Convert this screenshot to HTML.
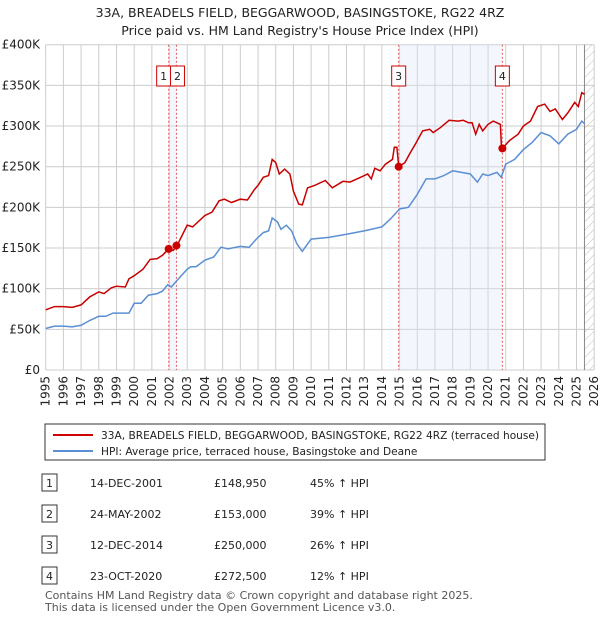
<!DOCTYPE html>
<html><head><meta charset="utf-8">
<style>
body{margin:0;background:#fff;font-family:"Liberation Sans","DejaVu Sans",sans-serif;}
#wrap{position:relative;width:600px;height:620px;overflow:hidden;}
svg text{font-family:"DejaVu Sans","Liberation Sans",sans-serif;}
</style></head><body>
<div id="wrap">
<svg id="chart" width="600" height="620" viewBox="0 0 600 620">
<text x="300" y="17" text-anchor="middle" font-size="12.5" fill="#222">33A, BREADELS FIELD, BEGGARWOOD, BASINGSTOKE, RG22 4RZ</text>
<text x="300" y="35" text-anchor="middle" font-size="12.5" fill="#222">Price paid vs. HM Land Registry's House Price Index (HPI)</text>
<defs><pattern id="hatch" width="6" height="6" patternUnits="userSpaceOnUse" patternTransform="rotate(45)"><line x1="0" y1="0" x2="0" y2="6" stroke="#bbb" stroke-width="1"/></pattern></defs>
<g id="grid"></g><g id="bands"></g><g id="series"></g><g id="axes"></g>
<rect x="45" y="424" width="500" height="36" fill="#fff" stroke="#333" stroke-width="1"/>
<line x1="53" y1="435" x2="93" y2="435" stroke="#cc0000" stroke-width="2"/>
<text x="101" y="439" font-size="10.6" fill="#222">33A, BREADELS FIELD, BEGGARWOOD, BASINGSTOKE, RG22 4RZ (terraced house)</text>
<line x1="53" y1="451" x2="93" y2="451" stroke="#5b8fd4" stroke-width="2"/>
<text x="101" y="455" font-size="10.6" fill="#222">HPI: Average price, terraced house, Basingstoke and Deane</text>
<g id="table" font-size="11" fill="#222"></g>
<text x="45" y="599" font-size="11" fill="#555">Contains HM Land Registry data © Crown copyright and database right 2025.</text>
<text x="45" y="611" font-size="11" fill="#555">This data is licensed under the Open Government Licence v3.0.</text>
</svg></div>
<script>
const hpiYears=[1995,1995.5,1996,1996.5,1997,1997.5,1998,1998.4,1998.8,1999.3,1999.7,2000,2000.4,2000.8,2001.3,2001.6,2001.9,2002.1,2002.5,2003,2003.2,2003.5,2004,2004.5,2004.9,2005.3,2006,2006.5,2006.9,2007.3,2007.6,2007.8,2008.1,2008.3,2008.6,2008.9,2009.2,2009.5,2010,2011,2012,2013,2014,2014.5,2015,2015.5,2016,2016.5,2017,2017.5,2018,2018.5,2019,2019.4,2019.7,2020,2020.5,2020.75,2021,2021.5,2022,2022.5,2023,2023.5,2024,2024.5,2025,2025.3,2025.45];
const hpiValues=[51,54,54,53,55,61,66,66,70,70,70,82,82,92,94,97,105,102,112,124,127,127,135,139,151,149,152,151,161,169,171,187,182,173,178,171,155,146,161,163,167,171,176,186,198,200,216,235,235,239,245,243,241,231,241,239,243,237,253,259,271,280,292,288,278,290,296,306,303];
const priceYears=[1995,1995.5,1996,1996.5,1997,1997.5,1998,1998.3,1998.7,1999,1999.5,1999.7,2000,2000.5,2000.9,2001.3,2001.6,2001.95,2002.2,2002.4,2003,2003.3,2004,2004.4,2004.8,2005.1,2005.5,2006,2006.4,2006.8,2007,2007.3,2007.6,2007.8,2008,2008.2,2008.5,2008.8,2009,2009.3,2009.5,2009.8,2010.2,2010.8,2011.2,2011.8,2012.2,2012.8,2013.2,2013.4,2013.6,2013.9,2014.2,2014.6,2014.7,2014.85,2014.95,2015.3,2015.6,2015.9,2016.3,2016.7,2016.9,2017.3,2017.8,2018.3,2018.6,2018.9,2019.1,2019.3,2019.5,2019.7,2020,2020.3,2020.7,2020.75,2020.81,2021.2,2021.7,2022,2022.4,2022.8,2023.2,2023.5,2023.8,2024.2,2024.5,2024.9,2025.1,2025.3,2025.45];
const priceValues=[74,78,78,77,80,90,96,94,101,103,102,112,116,124,136,137,141,149,147,152,178,176,190,194,208,210,206,210,209,222,227,237,239,259,255,241,247,241,220,204,203,224,227,233,224,232,231,237,241,235,248,245,253,259,274,274,250,255,267,278,294,296,292,298,307,306,307,304,304,290,302,294,302,306,302,278,272.5,282,290,300,306,324,327,318,321,308,316,329,324,341,339];
const saleLabels=["1","2","3","4"];
const saleYears=[2001.95,2002.39,2014.95,2020.81];
const salePrices=[148.95,153,250,272.5];
const saleDates=["14-DEC-2001","24-MAY-2002","12-DEC-2014","23-OCT-2020"];
const salePriceText=["£148,950","£153,000","£250,000","£272,500"];
const saleHpiText=["45% ↑ HPI","39% ↑ HPI","26% ↑ HPI","12% ↑ HPI"];
const yTicks=[0,50,100,150,200,250,300,350,400];
const yTickLabels=["£0","£50K","£100K","£150K","£200K","£250K","£300K","£350K","£400K"];
const xTicks=[1995,1996,1997,1998,1999,2000,2001,2002,2003,2004,2005,2006,2007,2008,2009,2010,2011,2012,2013,2014,2015,2016,2017,2018,2019,2020,2021,2022,2023,2024,2025,2026];
const X0=45.7,X1=594.2,Y0=370,Y1=44.7,yearMin=1995,yearMax=2026,vMax=400,dataEnd=2025.45;
const xS=y=>X0+(y-yearMin)/(yearMax-yearMin)*(X1-X0);
const yS=v=>Y0-v/vMax*(Y0-Y1);
const NS="http://www.w3.org/2000/svg";
function mk(tag,attrs,parent){const e=document.createElementNS(NS,tag);for(const k in attrs)e.setAttribute(k,attrs[k]);parent.appendChild(e);return e;}
const grid=document.getElementById('grid'),bands=document.getElementById('bands'),series=document.getElementById('series'),axes=document.getElementById('axes'),table=document.getElementById('table');
let bg=mk('rect',{x:X0,y:Y1,width:X1-X0,height:Y0-Y1,fill:'#fff'},grid);


yTicks.forEach((v,i)=>{
 let l=mk('line',{x1:X0,x2:X1,y1:yS(v),y2:yS(v),stroke:'#ccc','stroke-width':1},grid);
 
 
 let t=mk('text',{x:40,y:yS(v)+4,'text-anchor':'end','font-size':12,fill:'#222'},axes);
 t.textContent=yTickLabels[i];
 
 
});
xTicks.forEach(yr=>{
 let l=mk('line',{x1:xS(yr),x2:xS(yr),y1:Y1,y2:Y0,stroke:'#ccc','stroke-width':1},grid);
 
 
 let t=mk('text',{x:0,y:0,'text-anchor':'end','font-size':12,fill:'#222',transform:`translate(${xS(yr)+4},376) rotate(-90)`},axes);
 t.textContent=yr;
 
 
});
[[0,1],[2,3]].forEach(p=>{
 let r=mk('rect',{x:xS(saleYears[p[0]]),y:Y1,width:xS(saleYears[p[1]])-xS(saleYears[p[0]]),height:Y0-Y1,fill:'#dde6f8','fill-opacity':0.35},bands);
 
 
});
let h=mk('rect',{x:xS(dataEnd),y:Y1,width:X1-xS(dataEnd),height:Y0-Y1,fill:'url(#hatch)'},bands);


let hl=mk('line',{x1:xS(dataEnd),x2:xS(dataEnd),y1:Y1,y2:Y0,stroke:'#888','stroke-width':1},bands);


saleYears.forEach((yr,i)=>{
 let l=mk('line',{x1:xS(yr),x2:xS(yr),y1:Y1,y2:Y0,stroke:'#e06060','stroke-width':1,'stroke-dasharray':'2,2'},bands);
 
 
 let bx=xS(yr)-7;
 if(i===0)bx=xS(yr)-12; if(i===1)bx=xS(yr)-6;
 let r=mk('rect',{x:bx,y:66,width:14,height:20,fill:'#fff',stroke:'#cc0000','stroke-width':1},series);
 
 
 let t=mk('text',{x:bx+7,y:80,'text-anchor':'middle','font-size':11,fill:'#222'},series);
 t.textContent=saleLabels[i];
 
 
});
let dB=hpiYears.map((y,i)=>(i?'L':'M')+xS(y).toFixed(1)+','+yS(hpiValues[i]).toFixed(1)).join('');
let pb=mk('path',{d:dB,fill:'none',stroke:'#5b8fd4','stroke-width':1.5},series);


let dR=priceYears.map((y,i)=>(i?'L':'M')+xS(y).toFixed(1)+','+yS(priceValues[i]).toFixed(1)).join('');
let pr=mk('path',{d:dR,fill:'none',stroke:'#c80000','stroke-width':1.5},series);


saleYears.forEach((yr,i)=>{
 let c=mk('circle',{cx:xS(yr),cy:yS(salePrices[i]),r:4,fill:'#cc0000'},series);
 
 
});
const rowY=[483,514,545,576];
saleLabels.forEach((lab,i)=>{
 let y=rowY[i];
 let r=mk('rect',{x:42,y:y-9,width:15,height:17,fill:'#fff',stroke:'#333','stroke-width':1},table);
 
 
 const cells=[[49.5,lab,'middle'],[90,saleDates[i],'start'],[214,salePriceText[i],'start'],[310,saleHpiText[i],'start']];
 cells.forEach(c=>{
  let t=mk('text',{x:c[0],y:y+4,'text-anchor':c[2],'font-size':11,fill:'#222'},table);
  t.textContent=c[1];
  
  
 });
});
</script>
</body></html>
